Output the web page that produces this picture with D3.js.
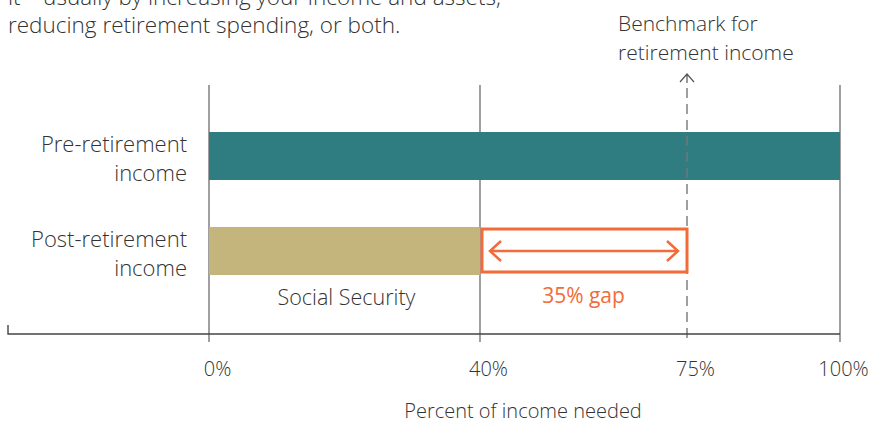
<!DOCTYPE html>
<html>
<head>
<meta charset="utf-8">
<script src="https://cdn.jsdelivr.net/npm/d3@7"></script>
<style>
  body { margin: 0; background: #fff; }
  svg text { font-family: "Open Sans", "Noto Sans", sans-serif; font-weight: 300; fill: #333; }
</style>
</head>
<body>
<svg id="chart"></svg>
<script>
const categories = ["Pre-retirement income", "Post-retirement income"];
const categoryLines = [["Pre-retirement", "income"], ["Post-retirement", "income"]];
const incomeShare = [100, 40];
const benchmark = 75;
const tickValues = [0, 40, 75, 100];
const tickLabels = ["0%", "40%", "75%", "100%"];
const introLines = ["it\u2014usually by increasing your income and assets,", "reducing retirement spending, or both."];
const benchmarkLines = ["Benchmark for", "retirement income"];
const segmentLabel = "Social Security";
const gapLabel = (benchmark - incomeShare[1]) + "% gap";
const axisTitle = "Percent of income needed";

const width = 873, height = 424;
const teal = "#2f7c81", tan = "#c3b57c", orange = "#f26b38";

const svg = d3.select("#chart")
  .attr("width", width)
  .attr("height", height)
  .attr("viewBox", [0, 0, width, height]);

// illustrative (non-uniform) percent axis
const x = d3.scaleLinear()
  .domain(tickValues)
  .range([209, 480, 687, 840]);

const y = d3.scaleBand()
  .domain(categories)
  .range([132, 275])
  .paddingInner(0.495)
  .paddingOuter(0);

const gridTop = 85, axisY = 334;

// intro text (first line runs off the top, as in the source)
svg.append("text")
  .attr("x", 8)
  .attr("y", 5)
  .style("font-size", "22.5px")
  .selectAll("tspan")
  .data(introLines)
  .join("tspan")
  .attr("x", 8)
  .attr("dy", (d, i) => i ? 28 : 0)
  .text(d => d);

// gridlines
svg.append("g")
  .selectAll("line")
  .data(tickValues.filter(v => v !== benchmark))
  .join("line")
  .attr("x1", d => x(d)).attr("x2", d => x(d))
  .attr("y1", gridTop).attr("y2", axisY + 8)
  .attr("stroke", "#777")
  .attr("stroke-width", 1.4);

// bars
svg.append("g")
  .selectAll("rect")
  .data(categories)
  .join("rect")
  .attr("x", x(0))
  .attr("y", d => y(d))
  .attr("width", (d, i) => x(incomeShare[i]) - x(0))
  .attr("height", y.bandwidth())
  .attr("fill", (d, i) => i ? tan : teal);

// benchmark dashed line with arrow
const bx = x(benchmark);
svg.append("line")
  .attr("x1", bx).attr("x2", bx)
  .attr("y1", gridTop + 3).attr("y2", axisY + 8)
  .attr("stroke", "#777")
  .attr("stroke-width", 1.4)
  .attr("stroke-dasharray", "10,6");
svg.append("path")
  .attr("d", `M${bx - 7},${gridTop - 3}L${bx},${gridTop - 11}L${bx + 7},${gridTop - 3}M${bx},${gridTop - 11}V${gridTop - 2}`)
  .attr("fill", "none")
  .attr("stroke", "#555")
  .attr("stroke-width", 1.2);

svg.append("text")
  .attr("y", 31)
  .style("font-size", "21px")
  .selectAll("tspan")
  .data(benchmarkLines)
  .join("tspan")
  .attr("x", 618)
  .attr("dy", (d, i) => i ? 29 : 0)
  .text(d => d);

// gap box and double arrow
const post = categories[1];
const gx0 = x(incomeShare[1]), gx1 = x(benchmark);
const gy = y(post), gh = y.bandwidth();
svg.append("rect")
  .attr("x", gx0 + 2)
  .attr("y", gy + 2)
  .attr("width", gx1 - gx0 - 2)
  .attr("height", gh - 5)
  .attr("fill", "#fff")
  .attr("stroke", orange)
  .attr("stroke-width", 3);
const ay = gy + gh / 2;
const ax0 = gx0 + 10, ax1 = gx1 - 9;
svg.append("path")
  .attr("d", `M${ax0},${ay}H${ax1}M${ax0 + 11},${ay - 10}L${ax0},${ay}L${ax0 + 11},${ay + 10}M${ax1 - 11},${ay - 10}L${ax1},${ay}L${ax1 - 11},${ay + 10}`)
  .attr("fill", "none")
  .attr("stroke", orange)
  .attr("stroke-width", 2.5);

// category labels
svg.append("g")
  .selectAll("text")
  .data(categories)
  .join("text")
  .attr("text-anchor", "end")
  .attr("y", d => y(d) + 20)
  .style("font-size", "22px")
  .each(function(d, i) {
    d3.select(this).selectAll("tspan")
      .data(categoryLines[i])
      .join("tspan")
      .attr("x", 187)
      .attr("dy", (t, j) => j ? 29 : 0)
      .text(t => t);
  });

// segment labels below the post-retirement bar
const labelY = y(post) + gh + 30;
svg.append("text")
  .attr("x", (x(0) + x(incomeShare[1])) / 2 + 2)
  .attr("y", labelY)
  .attr("text-anchor", "middle")
  .style("font-size", "21.5px")
  .text(segmentLabel);
svg.append("text")
  .attr("x", (gx0 + gx1) / 2)
  .attr("y", labelY - 2)
  .attr("text-anchor", "middle")
  .style("font-size", "21px")
  .style("font-weight", 400)
  .style("fill", orange)
  .text(gapLabel);

// axis
svg.append("path")
  .attr("d", `M8,${axisY - 9}V${axisY}H${x(100)}`)
  .attr("fill", "none")
  .attr("stroke", "#444")
  .attr("stroke-width", 1.4);

const axis = d3.axisBottom(x)
  .tickValues(tickValues)
  .tickSize(0)
  .tickPadding(28)
  .tickFormat((d, i) => tickLabels[i]);
const ax = svg.append("g")
  .attr("transform", `translate(0,${axisY})`)
  .call(axis);
ax.select(".domain").remove();
ax.selectAll("text")
  .attr("dx", (d, i) => i === tickValues.length - 1 ? 3 : 8)
  .style("font-size", "20px")
  .style("font-family", null);

svg.append("text")
  .attr("x", 523)
  .attr("y", 418)
  .attr("text-anchor", "middle")
  .style("font-size", "20px")
  .text(axisTitle);
</script>
</body>
</html>
